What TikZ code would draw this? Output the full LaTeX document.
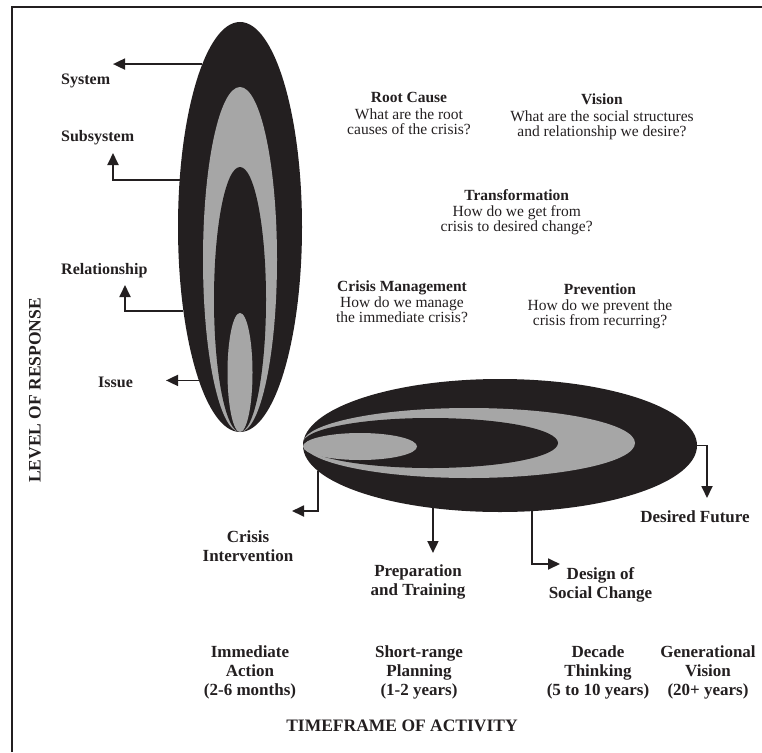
\documentclass[tikz,border=0pt]{standalone}
\usepackage{fontspec}
\setmainfont{Liberation Serif}
\usetikzlibrary{arrows.meta,shapes.geometric}
\definecolor{ink}{RGB}{35,31,32}
\definecolor{shade}{RGB}{166,166,166}

\begin{document}
\begin{tikzpicture}[
    x=1pt, y=-1pt,
    blob/.style={ellipse, inner sep=0pt, outer sep=0pt},
    dark/.style={blob, fill=ink},
    pale/.style={blob, fill=shade},
    link/.style={-{Triangle[length=12pt,width=11pt]}, line width=1.8pt, draw=ink},
    tag/.style={font=\fontsize{16}{19}\selectfont\bfseries, text=ink, inner sep=0pt, anchor=base west},
    stage/.style={font=\fontsize{17}{19}\selectfont\bfseries, text=ink, align=center, inner sep=0pt, anchor=north},
    query/.style={font=\fontsize{15.5}{15}\selectfont, text=ink, align=center, inner sep=0pt, anchor=north},
    axislabel/.style={font=\fontsize{17.5}{20}\selectfont\bfseries, text=ink, inner sep=0pt}
]
\useasboundingbox (0,0) rectangle (762,752);
% Frame (cut off at right and bottom)
\draw[ink, line width=1.6pt] (12,752) -- (12,7) -- (762,7);

% Level of response ellipse
\node[dark, minimum width=124pt, minimum height=410pt] (vout) at (240,227) {};
\node[pale, minimum width=74pt, minimum height=345pt] (vmid) at (240,259.5) {};
\node[dark, minimum width=52pt, minimum height=265pt] (vin) at (240,299.5) {};
\node[pale, minimum width=25pt, minimum height=119pt] (vcore) at (240,372.5) {};

% Timeframe ellipse
\node[dark, minimum width=394pt, minimum height=133pt] (hout) at (500,445.5) {};
\node[pale, minimum width=332pt, minimum height=70pt] (hmid) at (469,443) {};
\node[dark, minimum width=255pt, minimum height=50pt] (hin) at (430.5,443) {};
\node[pale, minimum width=114pt, minimum height=27pt] (hcore) at (360,446.5) {};

% Level labels
\node[tag] (lblSystem) at (61,84) {System};
\node[tag] (lblSubsystem) at (61,141) {Subsystem};
\node[tag] (lblRelation) at (61,274) {Relationship};
\node[tag] (lblIssue) at (98,387) {Issue};

\coordinate (sysTip) at (113,65);
\coordinate (subTip) at (113,153);
\coordinate (relTip) at (125,285);
\coordinate (issTip) at (166,380);
\draw[link] (vout.103) -- (vout.103 -| sysTip);
\draw[link] (vout.142) -| (subTip);
\draw[link] (vout.236.5) -| (relTip);
\draw[link] (vout.255) -- (vout.255 -| issTip);

% Questions
\node[query] (qRoot) at (409,92.3) {\textbf{Root Cause}\\[1.5pt]What are the root\\causes of the crisis?};
\node[query] (qVision) at (602,93.8) {\textbf{Vision}\\[1.5pt]What are the social structures\\and relationship we desire?};
\node[query] (qTrans) at (516.7,189) {\textbf{Transformation}\\[1.5pt]How do we get from\\crisis to desired change?};
\node[query] (qCrisis) at (402,280.3) {\textbf{Crisis Management}\\[1.5pt]How do we manage\\the immediate crisis?};
\node[query] (qPrev) at (600,283.3) {\textbf{Prevention}\\[1.5pt]How do we prevent the\\crisis from recurring?};

% Timeframe labels
\node[stage] (lblCrisisInt) at (248,530) {Crisis\\Intervention};
\node[stage] (lblPrep) at (418,564.3) {Preparation\\and Training};
\node[stage] (lblDesign) at (600.5,567.3) {Design of\\Social Change};
\node[stage] (lblFuture) at (695,510) {Desired Future};

\coordinate (ciTip) at (292,511);
\coordinate (prepTip) at (433,553);
\coordinate (dsTip) at (560,564);
\coordinate (dfTip) at (707,498);
\draw[link] (hout.188.6) |- (ciTip);
\draw[link] (hout.223) -- (hout.223 |- prepTip);
\draw[link] (hout.296.7) |- (dsTip);
\draw[link] (hout.east) -| (dfTip);

\node[stage] (lblNow) at (250,645) {Immediate\\Action\\(2-6 months)};
\node[stage] (lblShort) at (419,645) {Short-range\\Planning\\(1-2 years)};
\node[stage] (lblDecade) at (598,645) {Decade\\Thinking\\(5 to 10 years)};
\node[stage] (lblGen) at (708,645) {Generational\\Vision\\(20+ years)};

% Axis titles
\node[axislabel, rotate=90] (lblLevel) at (35,390.5) {LEVEL OF RESPONSE};
\node[axislabel, anchor=base] (lblTime) at (402,731) {TIMEFRAME OF ACTIVITY};
\end{tikzpicture}
\end{document}
